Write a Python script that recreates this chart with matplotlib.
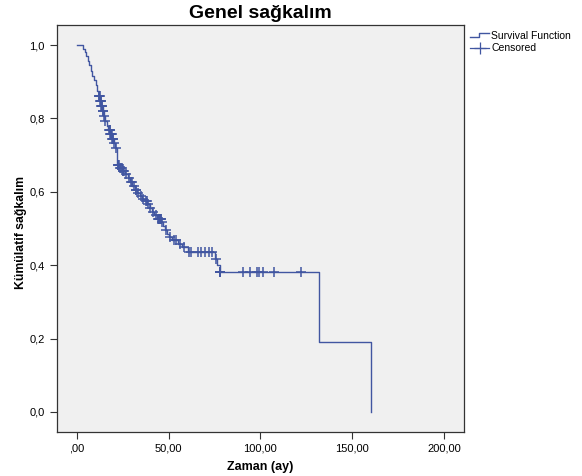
import numpy as np
import matplotlib
matplotlib.use('Agg')
import matplotlib.pyplot as plt
from matplotlib.lines import Line2D
from matplotlib.legend_handler import HandlerBase
from matplotlib.ticker import FuncFormatter

plt.rcParams['font.family'] = ['Liberation Sans', 'DejaVu Sans']

# Kaplan-Meier adımları (zaman, sonrası sağkalım)
event_times = [3.3, 4.3, 5.2, 6.0, 6.8, 7.6, 8.5, 9.4, 10.2, 11.0, 11.8, 12.5, 13.3, 14.0,
               14.6, 15.4, 16.3, 17.2, 18.2, 19.2, 20.2, 21.0, 22.1, 23.5, 24.8, 26.3, 27.6,
               29.0, 30.3, 31.6, 32.7, 34.2, 35.6, 36.9, 38.2, 39.6, 41.0, 42.3, 43.8, 46.0,
               47.0, 48.0, 49.0, 50.0, 52.0, 55.0, 57.5, 60.5, 75.5, 76.6, 77.8, 132.2, 160.5]
survival = [0.990, 0.980, 0.970, 0.958, 0.945, 0.930, 0.916, 0.905, 0.890, 0.875, 0.860,
            0.848, 0.835, 0.820, 0.806, 0.792, 0.780, 0.768, 0.757, 0.745, 0.733, 0.720,
            0.673, 0.665, 0.657, 0.648, 0.637, 0.626, 0.616, 0.606, 0.596, 0.588, 0.580,
            0.574, 0.566, 0.556, 0.546, 0.536, 0.527, 0.518, 0.507, 0.496, 0.486, 0.477,
            0.468, 0.459, 0.450, 0.437, 0.418, 0.400, 0.382, 0.191, 0.0]

censored_times = [11.9, 12.2, 12.4, 12.7, 12.9, 13.2, 13.4, 13.6, 13.9, 14.2, 14.5, 15.0,
                  15.5, 17.4, 17.8, 18.0, 18.2, 18.5, 18.7, 19.0, 19.3, 19.6, 19.8, 20.3,
                  21.4, 22.2, 22.6, 23.2, 23.7, 24.0, 24.4, 25.0, 25.4, 25.8, 27.0, 28.3,
                  29.5, 30.0, 31.0, 32.0, 32.4, 33.5, 35.0, 36.2, 37.5, 38.0, 38.8, 40.0,
                  41.5, 43.0, 44.2, 44.5, 44.8, 45.1, 45.3, 45.6, 45.8, 46.4, 48.5, 51.0,
                  53.0, 54.0, 56.0, 58.5, 61.2, 62.0, 65.8, 67.6, 70.0, 71.8, 73.6, 76.0,
                  77.8, 78.0, 78.2, 90.6, 94.5, 98.2, 99.0, 101.6, 107.6, 122.3]

line_color = '#4156A1'

t = np.array([0.0] + event_times)
s = np.array([1.0] + survival)
ct = np.array(censored_times)
cs = s[np.searchsorted(t, ct, side='right') - 1]


class StepHandler(HandlerBase):
    def create_artists(self, legend, orig, xd, yd, width, height, fontsize, trans):
        xs = [xd, xd + width * 0.45, xd + width * 0.45, xd + width]
        ys = [yd + height * 0.25, yd + height * 0.25, yd + height * 0.85, yd + height * 0.85]
        ln = Line2D(xs, ys, color=orig.get_color(), lw=orig.get_linewidth(), transform=trans)
        return [ln]


fig = plt.figure(figsize=(5.82, 4.76), dpi=100)
ax = fig.add_axes([0.0974, 0.0924, 0.7, 0.8551])
ax.set_facecolor('#F0F0F0')

surv_line, = ax.step(t, s, where='post', color=line_color, lw=1.0)
ax.plot(ct, cs, linestyle='none', marker='+', markersize=6.5, mew=1.1, color=line_color)

ax.set_xlim(-11, 211)
ax.set_ylim(-0.055, 1.055)
ax.set_xticks([0, 50, 100, 150, 200])
ax.set_yticks([0, 0.2, 0.4, 0.6, 0.8, 1.0])
ax.xaxis.set_major_formatter(FuncFormatter(lambda v, p: ',00' if v == 0 else ('%.2f' % v).replace('.', ',')))
ax.yaxis.set_major_formatter(FuncFormatter(lambda v, p: ('%.1f' % v).replace('.', ',')))
ax.tick_params(direction='out', length=5, width=0.8, labelsize=8, color='#333333')
for sp in ax.spines.values():
    sp.set_color('#333333')
    sp.set_linewidth(0.9)

ax.set_xlabel('Zaman (ay)', fontsize=9, fontweight='bold', labelpad=5)
ax.set_ylabel('Kümülatif sağkalım', fontsize=8.8, fontweight='bold')
ax.yaxis.set_label_coords(-0.073, 0.49)
ax.set_title('Genel sağkalım', fontsize=14, fontweight='bold', pad=5)

cens_handle = Line2D([], [], color=line_color, lw=0.9, marker='+', markersize=9, mew=0.9)
ax.legend([surv_line, cens_handle], ['Survival Function', 'Censored'],
          handler_map={surv_line: StepHandler()},
          loc='upper left', bbox_to_anchor=(1.0, 1.0), frameon=False,
          fontsize=7.5, handlelength=1.8, handletextpad=0.2, labelspacing=0.2,
          borderaxespad=0.2)

fig.savefig('out.png', dpi=100)
